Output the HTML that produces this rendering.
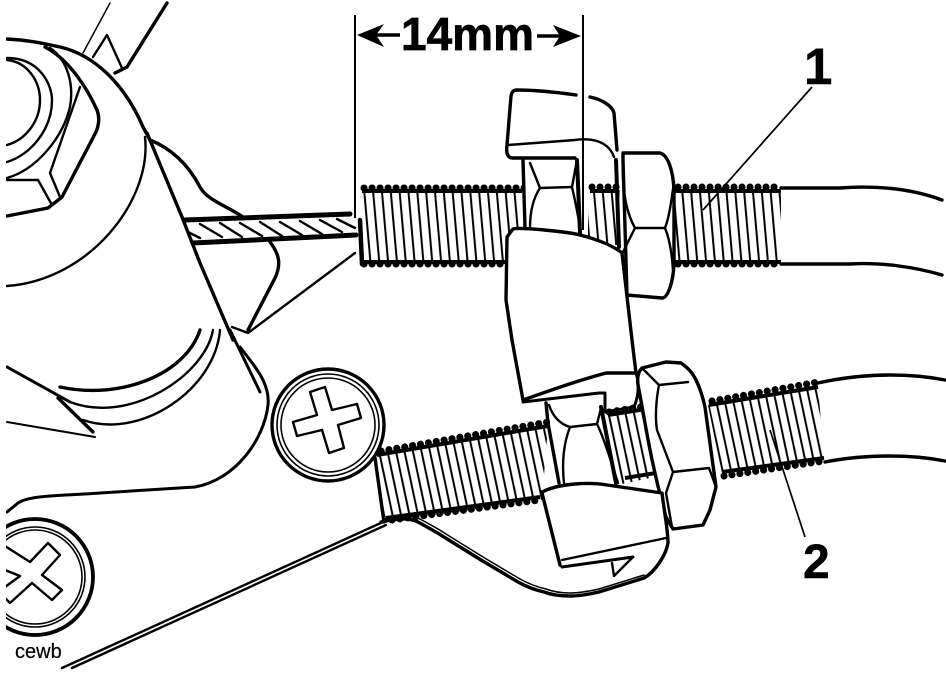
<!DOCTYPE html>
<html><head><meta charset="utf-8"><style>
html,body{margin:0;padding:0;background:#fff}
svg{display:block}
text{font-family:"Liberation Sans",Arial,sans-serif;fill:#000}
.t{fill:none;stroke:#000;stroke-width:1.5;stroke-linecap:round;stroke-linejoin:round}
.m{fill:none;stroke:#000;stroke-width:2.4;stroke-linecap:round;stroke-linejoin:round}
.k{fill:none;stroke:#000;stroke-width:3.4;stroke-linecap:round;stroke-linejoin:round}
.w{fill:#fff}
.c{fill:none;stroke:#000;stroke-width:7;stroke-linecap:round;stroke-dasharray:.1 7.9}
.b{fill:none;stroke:#000;stroke-width:4}
</style></head><body>
<svg width="946" height="674" viewBox="0 0 946 674" xmlns="http://www.w3.org/2000/svg">
<defs>
<pattern id="pa" width="8.8" height="20" patternUnits="userSpaceOnUse" patternTransform="rotate(-5)"><rect x="2" width="2" height="20" fill="#000"/></pattern>
<pattern id="pc" width="8.3" height="20" patternUnits="userSpaceOnUse" patternTransform="rotate(-12)"><rect x="2" width="2" height="20" fill="#000"/></pattern>
<clipPath id="cl"><rect x="6" y="0" width="940" height="674"/></clipPath>
</defs>
<rect width="946" height="674" fill="#fff"/>
<g clip-path="url(#cl)">
<!-- upper left prongs -->
<path class="t" d="M110 3L83 53"/>
<path class="k" d="M167 3L127 67L115 73"/>
<path class="m" d="M93 57L107 35L122 68"/>
<!-- big upper arcs -->
<path class="k" d="M7 39C30 40 46 44 60 47C95 55 125 85 143 127L149 138"/>
<path class="m" d="M145 137C152 200 90 280 7 286"/>
<path class="k" d="M147 133L182 217L200 263L233 340"/>
<path class="k" d="M150 140C175 150 190 168 200 187C207 200 225 205 243 217"/>
<path class="k" d="M270 242C280 255 281 265 275 278L248 330"/>
<path class="m" d="M355 253L248 333L232 327"/>
<path class="k" d="M45 47C70 60 88 90 97 110C100 118 99 125 96 132L62 197L48 208L7 216"/>
<path class="m" d="M7 58C40 58 52 85 52 100C52 130 30 155 7 162"/>
<path class="m" d="M7 60C28 62 40 82 40 100C40 122 25 140 7 145"/>
<path class="m" d="M50 48C68 60 74 85 70 107C62 140 35 170 7 178"/>
<path class="m" d="M80 87L50 173L60 197"/>
<path class="m" d="M7 180L38 180L52 205"/>
<!-- cable -->
<path class="k" style="stroke-width:5" d="M185 220L350 214"/>
<path class="k" style="stroke-width:5" d="M193 243L356 235"/>
<path class="t" style="stroke-width:2.4" d="M188 232L200 238M200 224L222 237M220 223L242 237M240 223L262 236M260 222L282 236M280 222L302 235M300 221L322 234M320 220L342 232M337 219L355 228"/>
<!-- lower arcs -->
<path class="k" d="M200 330C185 375 120 400 60 387"/>
<path class="m" d="M213 330C205 375 130 425 70 402"/>
<path class="m" d="M220 330C215 390 140 440 83 420"/>
<path class="k" style="stroke-width:3" d="M7 367L70 402"/>
<path class="k" d="M58 398L93 432"/>
<path class="m" style="stroke-width:2" d="M7 422L95 437"/>
<path class="k" style="stroke-width:3" d="M230 330L260 392"/>
<path class="k" style="stroke-width:3" d="M240 347C258 370 270 385 268 405C264 440 235 480 195 487L100 493C60 496 30 495 18 503L7 512"/>
<!-- screw 1 -->
<circle cx="328" cy="425" r="56" fill="#fff" stroke="#000" stroke-width="3.4"/>
<circle cx="328" cy="425" r="51" fill="none" stroke="#000" stroke-width="1.6"/>
<circle cx="328" cy="425" r="47" fill="none" stroke="#000" stroke-width="1.6"/>
<path class="m" d="M310 392L325 387L332 410L357 404L361 418L338 425L344 448L329 453L322 430L297 436L293 422L317 415Z"/>
<!-- screw 2 -->
<circle cx="35" cy="577" r="58" fill="#fff" stroke="#000" stroke-width="3.8"/>
<circle cx="35" cy="577" r="50" fill="none" stroke="#000" stroke-width="1.6"/>
<circle cx="35" cy="577" r="47" fill="none" stroke="#000" stroke-width="1.6"/>
<path class="m" d="M5 546L30 562L48 543L60 555L42 575L62 590L52 600L32 583L10 603L5 598M5 570L20 576L5 587"/>
<path class="m" d="M383 522L62 668"/>
<path class="m" d="M386 525L72 668"/>
<!-- dimension -->
<path d="M355 15V218" stroke="#000" stroke-width="2" fill="none"/>
<path d="M357 35L384 24L376 35L384 47Z" fill="#000"/>
<path d="M372 35H400" stroke="#000" stroke-width="3.4"/>
<path d="M537 36H562" stroke="#000" stroke-width="3.4"/>
<path d="M581 36L553 25L560 36L553 47Z" fill="#000"/>
<text x="401" y="50" font-size="46" font-weight="700" stroke="#000" stroke-width=".7">14mm</text>
<text x="804" y="84" font-size="51" font-weight="700" stroke="#000" stroke-width=".5">1</text>
<text x="803" y="578" font-size="48" font-weight="700" stroke="#000" stroke-width=".5">2</text>
<text x="15" y="658" font-size="20" stroke="#000" stroke-width=".2">cewb</text>
<!-- top thread A -->
<rect x="362" y="190" width="160" height="73" fill="url(#pa)"/>
<path class="b" d="M362 191H522M360 262H505"/>
<path class="c" d="M364 188H526M364 264H505"/>
<path class="k" style="stroke-width:4.5" d="M360 220L362 264"/>
<!-- thread A2 -->
<rect x="588" y="190" width="32" height="55" fill="url(#pa)"/>
<path class="b" d="M590 191H618"/>
<path class="c" d="M592 187H618"/>
<!-- thread B -->
<rect x="675" y="190" width="106" height="73" fill="url(#pa)"/>
<path class="b" d="M675 191H781M675 262H781"/>
<path class="c" d="M678 187H780M678 264H780"/>
<path class="k" d="M781 188H840C880 185 915 190 942 200"/>
<path class="k" d="M781 264H850C880 262 915 267 942 275"/>
<!-- nut top -->
<path class="k" style="fill:#fff" d="M623 153H660C668 155 673 170 674 190V265C673 282 668 298 662 298L627 295L623 160Z"/>
<path class="m" d="M623 160C622 185 625 210 635 228L623 252M635 228H665C670 215 672 195 674 182M665 228C670 240 672 255 673 270"/>
<path class="k" style="stroke-width:4" d="M616 160L619 247"/>
<!-- small nut top -->
<path class="w" d="M524 158H582V235H524Z"/>
<path class="k" d="M523 160L525 228"/>
<path class="m" d="M530 163L540 188L572 187L577 160M540 188C532 200 530 215 530 228M572 187C575 200 578 215 580 228"/>
<path class="k" style="stroke-width:4" d="M577 160L580 233"/>
<!-- top jaw -->
<path class="w" d="M512 92C540 89 560 92 590 97C600 99 612 105 614 115L617 157L582 158H510C506 150 506 140 512 92Z"/>
<path class="k" d="M517 90C535 90 555 92 576 95M590 97C600 99 612 105 614 113L617 150M517 90C513 90 512 92 511 96L507 145C506 152 507 158 513 158L575 158"/>
<path class="m" d="M508 145L575 140C590 138 608 140 614 157"/>
<path d="M583 15V230" stroke="#000" stroke-width="2" fill="none"/>
<!-- thread C -->
<path d="M376 456L548 426L542 500L384 522Z" fill="url(#pc)"/>
<path class="b" d="M377 455L548 426M386 518L540 497"/>
<path class="c" d="M381 451L548 422M392 520L540 500"/>
<path class="k" d="M375 458L384 522"/>
<!-- thread E -->
<path d="M605 414L646 408L664 475L622 484Z" fill="url(#pc)"/>
<path class="b" d="M608 415L646 409M625 478L662 472"/>
<path class="c" d="M609 412L646 406"/>
<!-- thread D -->
<path d="M708 405L818 385L824 460L722 476Z" fill="url(#pc)"/>
<path class="b" d="M709 405L818 387M722 472L824 458"/>
<path class="c" d="M712 401L818 382M724 476L824 461"/>
<path class="k" d="M818 383C845 377 870 375 890 375C910 375 930 377 945 380"/>
<path class="k" d="M825 462C845 458 870 456 890 456C910 456 930 458 945 461"/>
<!-- lower small nut -->
<path class="w" d="M548 405H601L617 485H560Z"/>
<path class="k" d="M546 403L548 423L559 483"/>
<path class="m" d="M549 405C553 417 560 424 570 427L597 424L601 408M570 427C563 445 562 465 564 483M597 424C605 440 612 465 618 483"/>
<path class="k" style="stroke-width:4" d="M601 407L616 483"/>
<!-- lower nut -->
<path class="k" style="fill:#fff" d="M642 368L666 362L681 363C688 368 692 372 696 380C700 388 703 398 705 407L716 487L710 510L703 525L673 529L666 517C650 460 645 420 638 385C637 378 638 372 642 368Z"/>
<path class="m" d="M642 368L659 385L688 382M659 385C656 400 655 418 657 430L673 472L709 468M673 472L666 493L672 527M709 468L716 487"/>
<!-- middle jaw -->
<path class="k" style="fill:#fff" d="M513 229C520 227 570 232 580 235C600 240 615 247 622 253L632 340L636 373L606 373C580 380 560 387 523 400L512 340L506 300L507 237Z"/>
<path class="k" style="stroke-width:3" d="M523 402L599 393H605V410M636 373C640 385 638 398 634 407L605 412"/>
<!-- lower jaw -->
<path class="w" d="M542 492C560 483 590 482 607 485L662 493C664 510 668 530 668 543C666 555 655 572 644 578L570 596L550 590L560 567Z"/>
<path class="k" d="M542 492C560 483 590 482 607 485L662 493C664 510 668 530 668 543C666 555 655 572 644 578"/>
<path class="k" d="M542 493L560 565"/>
<path class="k" d="M381 522C395 519 408 517 418 522C427 527 435 531 444 537L481 560L518 582C527 587 535 590 544 592C552 595 562 596 570 596C580 596 590 594 599 592L644 578"/>
<path class="t" d="M385 519C395 516 408 514 420 519C429 524 437 528 446 534L483 557L520 579C529 584 537 587 546 589C554 592 562 593 570 593C580 593 590 591 599 589L644 575"/>
<path class="m" d="M562 560L666 538"/>
<path class="k" style="stroke-width:3" d="M562 567L633 557"/>
<path class="m" d="M612 563L614 576L633 557"/>
<!-- leaders -->
<path d="M812 87L703 210" stroke="#000" stroke-width="1.7" fill="none"/>
<path d="M805 537L770 430" stroke="#000" stroke-width="1.7" fill="none"/>
</g>
</svg>
</body></html>
